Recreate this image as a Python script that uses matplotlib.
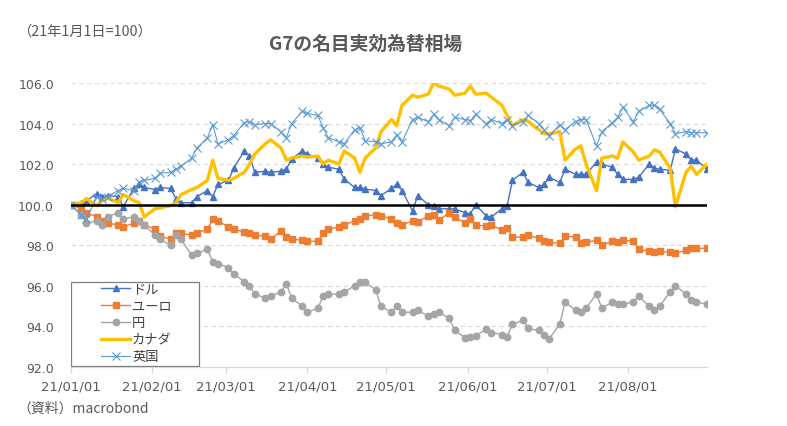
import matplotlib
matplotlib.use("Agg")
import matplotlib.pyplot as plt
import matplotlib.dates as mdates
import pandas as pd
from matplotlib.patches import Rectangle

plt.rcParams['font.family'] = ['Noto Sans CJK JP', 'DejaVu Sans']

# ---- data (index, 2021-01-01 = 100), sampled every 2 business days ----
dates = pd.bdate_range("2021-01-01", "2021-08-31", freq="2B")

usd = [100.0, 100.1, 100.2, 100.55, 100.4, 100.45, 100.4, 99.9, 100.8, 101.0, 100.85,
       100.75, 100.85, 100.8, 100.3, 100.1, 100.1, 100.4, 100.7, 100.4, 101.0,
       101.2, 101.8, 102.65, 102.4, 101.6, 101.65, 101.6, 101.65, 101.75, 102.25, 102.65,
       102.5, 102.3, 102.0, 101.85, 101.75, 101.26, 100.85, 100.85, 100.77, 100.7, 100.45,
       100.8, 101.0, 100.7, 99.7, 100.45, 100.0, 99.95, 99.8, 99.8, 99.8, 99.6,
       99.55, 100.0, 99.45, 99.4, 99.8, 99.95, 101.2, 101.6, 101.1, 100.85, 101.0,
       101.35, 101.1, 101.75, 101.5, 101.5, 101.5, 102.1, 102.0, 101.85, 101.5, 101.25,
       101.25, 101.35, 102.0, 101.8, 101.75, 101.7, 102.75, 102.5, 102.2, 102.2, 101.75]

eur = [100.0, 99.8, 99.6, 99.4, 99.2, 99.1, 99.0, 98.9, 99.1, 99.2, 99.0,
       98.8, 98.45, 98.3, 98.6, 98.6, 98.5, 98.6, 98.8, 99.3, 99.2,
       98.9, 98.8, 98.65, 98.6, 98.5, 98.45, 98.3, 98.7, 98.4, 98.3, 98.25,
       98.2, 98.2, 98.6, 98.8, 98.9, 99.0, 99.2, 99.3, 99.45, 99.5, 99.45,
       99.3, 99.1, 99.0, 99.2, 99.15, 99.45, 99.5, 99.25, 99.6, 99.4, 99.1,
       99.3, 99.0, 98.95, 99.0, 98.75, 98.85, 98.4, 98.4, 98.5, 98.35, 98.2,
       98.15, 98.1, 98.45, 98.4, 98.1, 98.15, 98.25, 98.0, 98.2, 98.15, 98.25,
       98.2, 97.8, 97.7, 97.65, 97.7, 97.65, 97.6, 97.75, 97.85, 97.85, 97.85]

jpy = [100.0, 99.5, 99.1, 99.2, 99.0, 99.4, 99.6, 99.3, 99.4, 99.2, 99.0,
       98.5, 98.3, 98.0, 98.5, 98.3, 97.5, 97.6, 97.8, 97.2, 97.1,
       96.9, 96.6, 96.2, 96.0, 95.6, 95.4, 95.5, 95.7, 96.1, 95.4, 95.0,
       94.7, 94.9, 95.5, 95.6, 95.6, 95.7, 96.0, 96.2, 96.2, 95.8, 95.0,
       94.7, 95.0, 94.7, 94.7, 94.8, 94.5, 94.6, 94.7, 94.4, 93.8, 93.45,
       93.5, 93.55, 93.85, 93.7, 93.6, 93.5, 94.1, 94.3, 93.9, 93.8, 93.6,
       93.4, 94.1, 95.2, 94.8, 94.7, 94.9, 95.6, 94.9, 95.2, 95.1, 95.1,
       95.2, 95.5, 95.0, 94.8, 95.0, 95.7, 96.0, 95.6, 95.3, 95.2, 95.1]

cad = [100.0, 100.1, 100.3, 99.95, 100.2, 100.35, 100.1, 100.5, 100.2, 100.1, 99.4,
       99.8, 99.85, 99.95, 100.1, 100.5, 100.75, 100.85, 101.2, 102.2, 101.3,
       101.2, 101.3, 101.6, 102.0, 102.5, 103.0, 103.2, 102.8, 102.2, 102.3, 102.4,
       102.35, 102.4, 102.0, 102.2, 102.0, 102.65, 102.3, 101.6, 102.3, 102.8, 103.6,
       104.2, 103.9, 104.9, 105.4, 105.3, 105.45, 106.0, 105.85, 105.7, 105.4, 105.5,
       105.85, 105.45, 105.5, 105.3, 104.9, 104.4, 103.9, 104.2, 104.1, 103.7, 103.5,
       103.5, 103.6, 102.2, 102.75, 102.9, 102.0, 100.7, 102.3, 102.4, 102.3, 103.1,
       102.6, 102.2, 102.4, 102.7, 102.6, 101.8, 99.9, 101.6, 101.9, 101.5, 102.0]

gbp = [100.0, 99.5, 99.3, 100.4, 100.3, 100.4, 100.7, 100.8, 100.7, 101.1, 101.2,
       101.3, 101.55, 101.6, 101.75, 101.9, 102.3, 102.8, 103.3, 103.95, 103.0,
       103.2, 103.4, 104.05, 104.1, 103.95, 104.0, 104.0, 103.6, 103.3, 104.0, 104.6,
       104.5, 104.4, 103.8, 103.3, 103.1, 103.0, 103.7, 103.8, 103.15, 103.1, 103.0,
       103.1, 103.45, 103.1, 104.2, 104.3, 104.1, 104.45, 104.2, 103.9, 104.3, 104.2,
       104.15, 104.45, 104.0, 104.2, 104.0, 104.2, 103.9, 104.1, 104.4, 104.0, 103.7,
       103.4, 103.95, 103.7, 104.1, 104.2, 104.2, 102.9, 103.6, 104.05, 104.3, 104.8,
       104.1, 104.6, 104.9, 104.9, 104.7, 104.0, 103.5, 103.6, 103.55, 103.55, 103.55]

BASE = 100.0
labels = ["ドル", "ユーロ", "円", "カナダ", "英国"]
yticks = [92, 94, 96, 98, 100, 102, 104, 106]
title = "G7の名目実効為替相場"
unit_note = "（21年1月1日=100）"
source_note = "（資料）macrobond"

# ---- figure ----
W, H = 787, 427
fig = plt.figure(figsize=(W / 100, H / 100), dpi=100)
ax = fig.add_axes([70.7 / W, 1 - 368 / H, (707 - 70.7) / W, (368 - 84) / H])

txt = '#595959'

ax.plot(dates, usd, color='#4472C4', lw=1.0, marker='^', ms=4.6, mec='#4472C4', label=labels[0], zorder=3)
ax.plot(dates, eur, color='#ED7D31', lw=1.0, marker='s', ms=4.4, mec='#ED7D31', label=labels[1], zorder=3)
ax.plot(dates, jpy, color='#A5A5A5', lw=1.0, marker='o', ms=4.6, mec='#A5A5A5', label=labels[2], zorder=3)
ax.plot(dates, cad, color='#FFC000', lw=2.4, label=labels[3], zorder=4)
ax.plot(dates, gbp, color='#5B9BD5', lw=0.8, marker='x', ms=5.2, mew=0.8, label=labels[4], zorder=5)
ax.axhline(BASE, color='black', lw=1.8, zorder=6)

ax.set_ylim(92, 106)
ax.set_yticks(yticks)
ax.set_yticklabels([f"{v:.1f}" for v in yticks])
ax.set_xlim(pd.Timestamp("2021-01-01"), pd.Timestamp("2021-08-31"))
ax.xaxis.set_major_locator(mdates.MonthLocator())
ax.xaxis.set_major_formatter(mdates.DateFormatter('%y/%m/%d'))

for s in ['top', 'right', 'left']:
    ax.spines[s].set_visible(False)
ax.spines['bottom'].set_color('#D9D9D9')
ax.spines['bottom'].set_linewidth(0.9)
ax.yaxis.grid(True, linestyle=(0, (4, 3)), color='#D9D9D9', lw=0.8)
ax.set_axisbelow(True)

ax.tick_params(axis='y', length=0, pad=12, labelsize=9, labelcolor=txt, labelfontfamily='DejaVu Sans')
ax.tick_params(axis='x', length=4, width=0.9, color='#D9D9D9', direction='out', pad=5,
               labelsize=9.5, labelcolor=txt, labelfontfamily='DejaVu Sans')

# legend frame + entries
ax.add_patch(Rectangle((0.0, (368 - 366.7) / 284), 128 / 636.3, 84 / 284, transform=ax.transAxes,
                       facecolor='white', edgecolor='#7F7F7F', lw=0.9, zorder=10))
leg = ax.legend(loc='upper left', bbox_to_anchor=((101 - 70.7) / 636.3, (368 - 283.5) / 284),
                frameon=False, borderaxespad=0, borderpad=0, handlelength=2.2, handletextpad=0.15,
                labelspacing=0.3, prop={'size': 9.5}, labelcolor='#404040')
leg.set_zorder(11)

fig.text(366 / W, 1 - 44 / H, title, ha='center', va='center', fontsize=13.5, fontweight='bold', color='#595959')
fig.text(17 / W, 1 - 32 / H, unit_note, ha='left', va='center', fontsize=10.3, color=txt)
fig.text(17 / W, 1 - 409 / H, source_note, ha='left', va='center', fontsize=10, color=txt)

fig.savefig("out.png", dpi=100)
